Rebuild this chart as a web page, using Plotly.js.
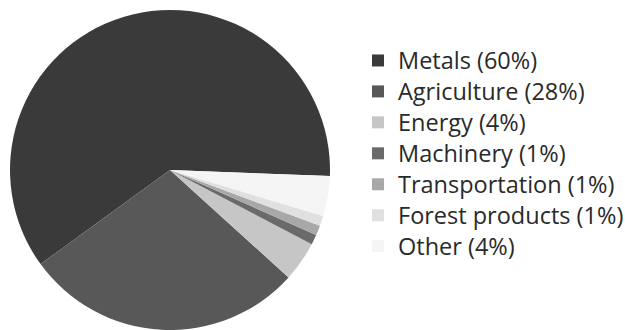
<!DOCTYPE html>
<html>
<head>
<meta charset="utf-8">
<script src="https://cdn.plot.ly/plotly-3.0.1.min.js"></script>
<style>
html, body { margin: 0; padding: 0; overflow: hidden; background: #fff; }
#chart { width: 625px; height: 340px; }
</style>
</head>
<body>
<div id="chart"></div>
<script>
const categories = ["Metals", "Agriculture", "Energy", "Machinery", "Transportation", "Forest products", "Other"];
const shares = [60, 28, 4, 1, 1, 1, 4];
const sliceColors = ["#3a3a3a", "#585858", "#c6c6c6", "#6a6a6a", "#a8a8a8", "#e0e0e0", "#f5f5f5"];

const legendLabels = categories.map((c, i) =>
  '<span style="font-size:23.5px">' + c + ' (' + shares[i] + '%)</span>');

const data = [{
  type: 'pie',
  labels: legendLabels,
  values: shares,
  sort: false,
  direction: 'counterclockwise',
  rotation: -126,
  textinfo: 'none',
  hoverinfo: 'label+percent',
  marker: { colors: sliceColors, line: { width: 0 } },
  domain: { x: [10 / 625, 330 / 625], y: [0, 1] }
}];

const layout = {
  width: 625,
  height: 340,
  margin: { l: 0, r: 0, t: 0, b: 0, autoexpand: false },
  paper_bgcolor: '#ffffff',
  showlegend: true,
  legend: {
    x: 358 / 625,
    xanchor: 'left',
    y: 1 - 40 / 340,
    yanchor: 'top',
    font: { family: 'Open Sans, sans-serif', size: 21.5, color: '#2a2a2a' },
    bgcolor: 'rgba(0,0,0,0)'
  },
  font: { family: 'Open Sans, sans-serif' }
};

Plotly.newPlot('chart', data, layout, { displayModeBar: false, staticPlot: true });
</script>
</body>
</html>
